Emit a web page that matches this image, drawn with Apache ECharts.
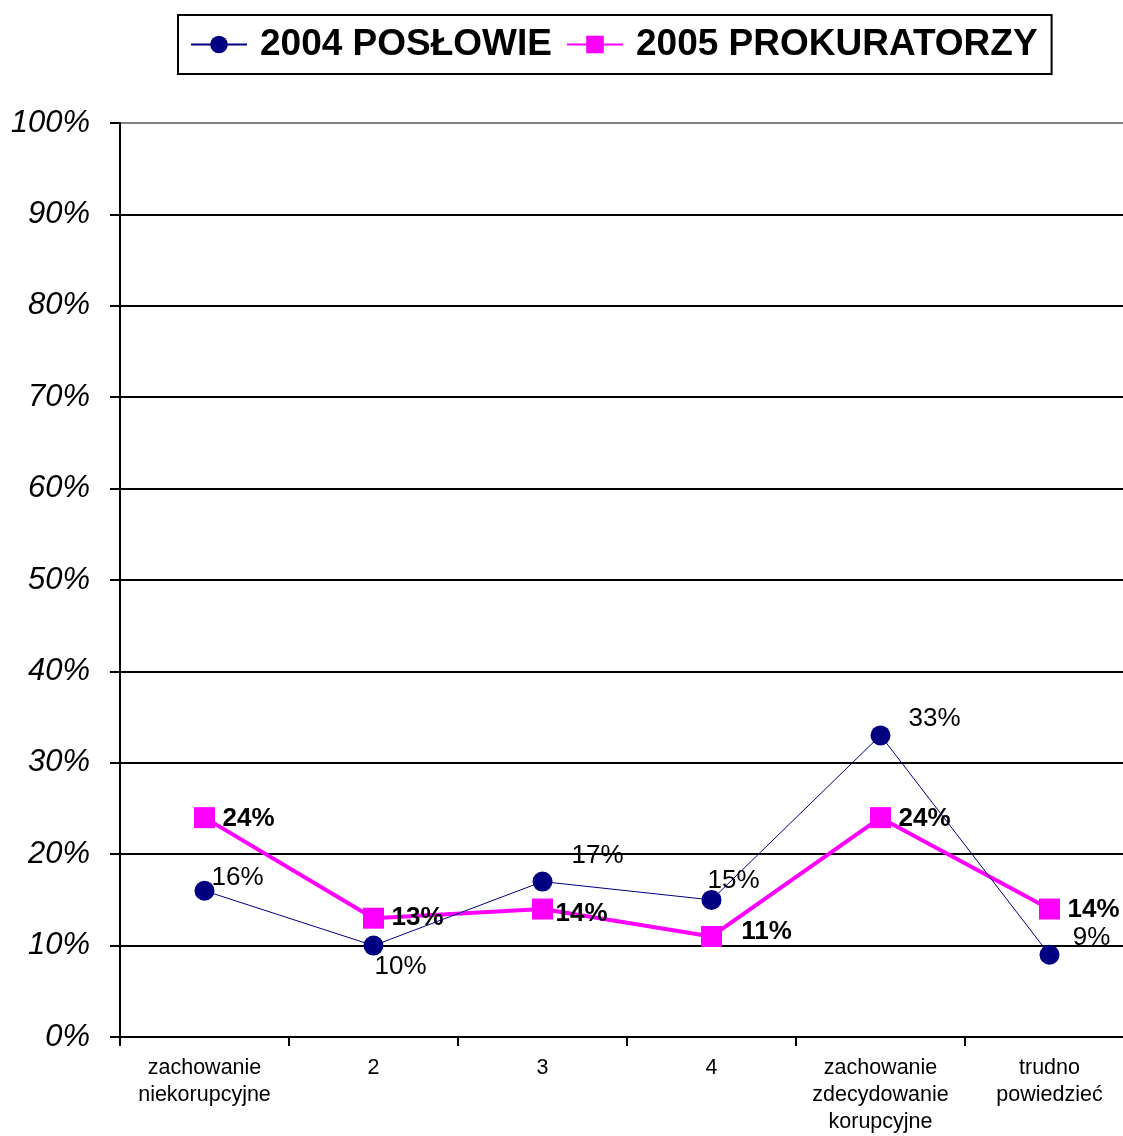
<!DOCTYPE html>
<html>
<head>
<meta charset="utf-8">
<script src="https://cdn.jsdelivr.net/npm/echarts@6/dist/echarts.min.js"></script>
<style>
  html, body { margin: 0; padding: 0; background: #fff; overflow: hidden; }
  #main { width: 1123px; height: 1136px; }
</style>
</head>
<body>
<div id="main"></div>
<script>
const categories = [
  "zachowanie\nniekorupcyjne",
  "2",
  "3",
  "4",
  "zachowanie\nzdecydowanie\nkorupcyjne",
  "trudno\npowiedzieć",
];
const seriesNames = ["2004 POSŁOWIE", "2005 PROKURATORZY"];
const poslowie2004 = [16, 10, 17, 15, 33, 9];
const prokuratorzy2005 = [24, 13, 14, 11, 24, 14];

// label offsets (style only)
const offsets2004 = [[33, -13], [27, 21], [55, -26], [22, -19], [54, -17], [42, -17]];
const offsets2005 = [[44, 1], [44, 0], [39, 5], [55, -5], [44, 1], [44, 1]];

const font = "Liberation Sans, Arial, sans-serif";

var chartDom = document.getElementById("main");
var myChart = echarts.init(chartDom);

// grey top line, black others
const splitColors = [];
for (let i = 0; i < 10; i++) splitColors.push("#000");
splitColors.push("#808080");

const option = {
  animation: false,
  backgroundColor: "#fff",
  textStyle: { fontFamily: font },
  legend: {
    left: 178,
    top: 15,
    padding: [11, 14, 11, 12],
    borderColor: "#000",
    borderWidth: 2,
    itemGap: 14,
    itemWidth: 56,
    itemHeight: 22,
    textStyle: {
      fontSize: 37,
      fontWeight: "bold",
      color: "#000",
      fontFamily: font,
      padding: [0, 2, 0, 8],
    },
    data: seriesNames,
  },
  grid: { left: 120, top: 123, width: 1014, bottom: 99, containLabel: false, outerBoundsMode: "none" },
  xAxis: {
    type: "category",
    data: categories,
    boundaryGap: true,
    axisLine: { lineStyle: { color: "#000", width: 2 } },
    axisTick: { show: true, length: 9, alignWithLabel: false, lineStyle: { color: "#000", width: 2 } },
    axisLabel: { fontSize: 21.5, color: "#000", lineHeight: 27, margin: 18, interval: 0, fontFamily: font },
  },
  yAxis: {
    type: "value",
    min: 0,
    max: 100,
    interval: 10,
    axisLine: { show: true, lineStyle: { color: "#000", width: 2 } },
    axisTick: { show: true, length: 10, lineStyle: { color: "#000", width: 2 } },
    axisLabel: {
      formatter: "{value}%",
      fontSize: 31,
      fontStyle: "italic",
      color: "#000",
      margin: 30,
      fontFamily: font,
    },
    splitLine: { show: true, lineStyle: { color: splitColors, width: 2 } },
  },
  series: [
    {
      name: seriesNames[0],
      type: "line",
      data: poslowie2004.map((v, i) => ({
        value: v,
        label: { offset: offsets2004[i] },
      })),
      symbol: "circle",
      symbolSize: 20,
      itemStyle: { color: "#000080" },
      lineStyle: { color: "#000080", width: 1 },
      z: 3,
      label: {
        show: true,
        position: "inside",
        formatter: "{c}%",
        fontSize: 26,
        color: "#000",
        fontFamily: font,
      },
    },
    {
      name: seriesNames[1],
      type: "line",
      data: prokuratorzy2005.map((v, i) => ({
        value: v,
        label: { offset: offsets2005[i] },
      })),
      symbol: "rect",
      symbolSize: 21,
      itemStyle: { color: "#FF00FF" },
      lineStyle: { color: "#FF00FF", width: 4 },
      z: 2,
      label: {
        show: true,
        position: "inside",
        formatter: "{c}%",
        fontSize: 26,
        fontWeight: "bold",
        color: "#000",
        fontFamily: font,
      },
    },
  ],
};

option && myChart.setOption(option);
</script>
</body>
</html>
